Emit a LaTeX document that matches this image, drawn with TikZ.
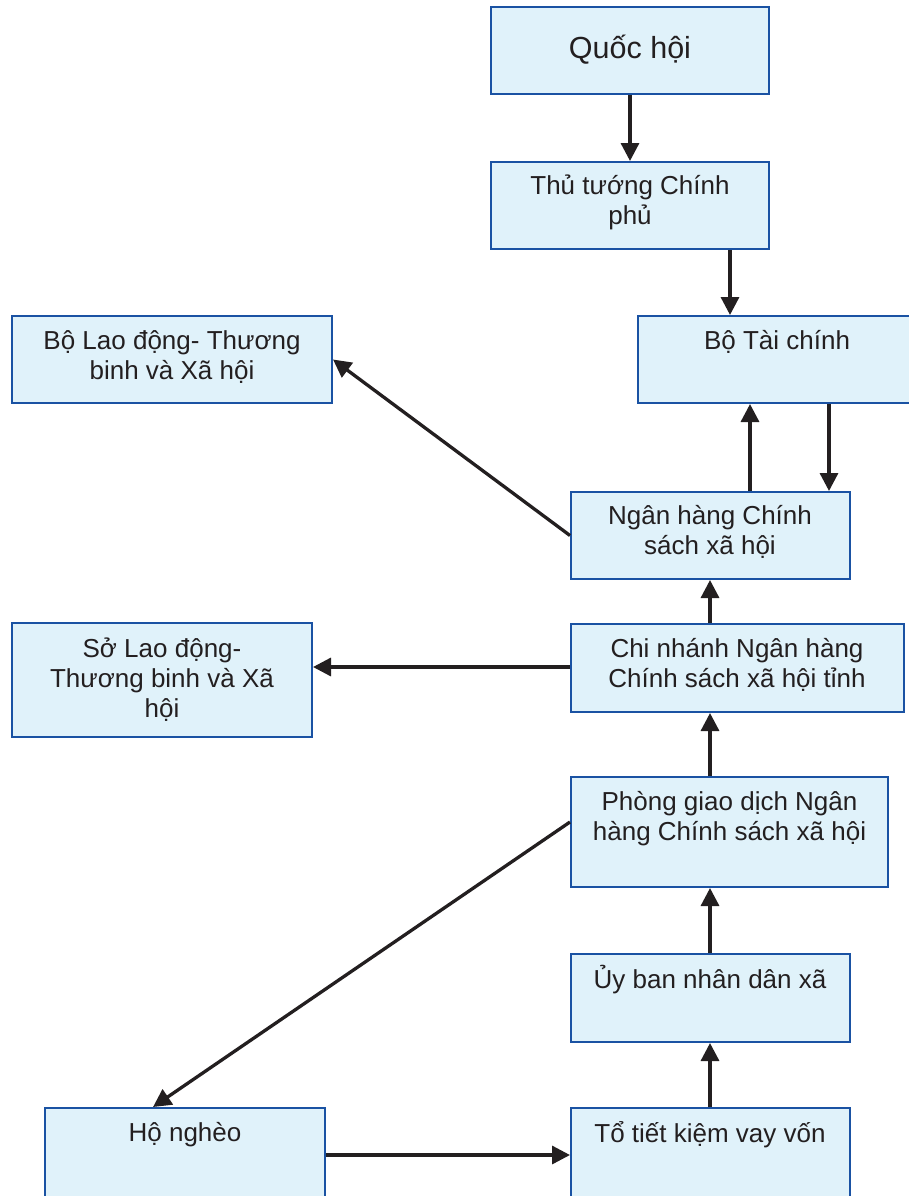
\documentclass[tikz,border=0pt]{standalone}
\usepackage{fontspec}
\setmainfont{Liberation Sans}
\usetikzlibrary{arrows.meta}
\definecolor{boxfill}{HTML}{E0F2FA}
\definecolor{boxline}{HTML}{1A52A3}
\definecolor{arrcol}{HTML}{231F20}
\tikzset{
  box/.style={draw=boxline, fill=boxfill, line width=2pt, rectangle, inner sep=0pt},
  txt/.style={align=center, inner sep=0pt, text=arrcol, font=\fontsize{26}{30}\selectfont},
  arr/.style={draw=arrcol, line width=3.3pt, -{Triangle[length=18pt,width=18pt]}}
}
\begin{document}
\begin{tikzpicture}[x=1pt,y=-1pt]
\useasboundingbox (0,0) rectangle (909,1196);
% boxes
\node[box, minimum width=278pt, minimum height=87pt] (qh) at (630,50.5) {};
\node[box, minimum width=278pt, minimum height=87pt] (tt) at (630,205.5) {};
\node[box, minimum width=278pt, minimum height=87pt] (btc) at (777,359.5) {};
\node[box, minimum width=320pt, minimum height=87pt] (bld) at (172,359.5) {};
\node[box, minimum width=279pt, minimum height=87pt] (nh) at (710.5,535.5) {};
\node[box, minimum width=333pt, minimum height=88pt] (cn) at (737.5,668) {};
\node[box, minimum width=300pt, minimum height=114pt] (so) at (162,680) {};
\node[box, minimum width=317pt, minimum height=110pt] (pg) at (729.5,832) {};
\node[box, minimum width=279pt, minimum height=88pt] (ub) at (710.5,998) {};
\node[box, minimum width=280pt, minimum height=89pt] (hn) at (185,1152.5) {};
\node[box, minimum width=279pt, minimum height=89pt] (to) at (710.5,1152.5) {};
% texts
\node[txt, font=\fontsize{30.5}{34}\selectfont] (qh-t) at (630,50) {Quốc hội};
\node[txt] (tt-t) at (630,202) {Thủ tướng Chính\\phủ};
\node[txt] (btc-t) at (777,342) {Bộ Tài chính};
\node[txt] (bld-t) at (172,357) {Bộ Lao động- Thương\\binh và Xã hội};
\node[txt] (nh-t) at (710,532) {Ngân hàng Chính\\sách xã hội};
\node[txt] (cn-t) at (737,665) {Chi nhánh Ngân hàng\\Chính sách xã hội tỉnh};
\node[txt] (so-t) at (162,680) {Sở Lao động-\\Thương binh và Xã\\hội};
\node[txt] (pg-t) at (729.5,819) {Phòng giao dịch Ngân\\hàng Chính sách xã hội};
\node[txt] (ub-t) at (710,980) {Ủy ban nhân dân xã};
\node[txt] (hn-t) at (185,1135) {Hộ nghèo};
\node[txt] (to-t) at (710,1135) {Tổ tiết kiệm vay vốn};
% helper coordinates
\coordinate (x730) at (730,0);
\coordinate (x750) at (750,0);
\coordinate (x829) at (829,0);
\coordinate (x710) at (710,0);
\coordinate (x153) at (153,0);
\coordinate (y667) at (0,667);
\coordinate (y822) at (0,822);
\coordinate (y1155) at (0,1155);
% connectors
\draw[arr] (qh.south) -- (tt.north);
\draw[arr] (tt.south -| x730) -- (btc.north -| x730);
\draw[arr] (nh.north -| x750) -- (btc.south -| x750);
\draw[arr] (btc.south -| x829) -- (nh.north -| x829);
\draw[arr] (nh.west) -- (bld.east);
\draw[arr] (cn.north -| x710) -- (nh.south -| x710);
\draw[arr] (cn.west |- y667) -- (so.east |- y667);
\draw[arr] (pg.north -| x710) -- (cn.south -| x710);
\draw[arr] (ub.north -| x710) -- (pg.south -| x710);
\draw[arr] (to.north -| x710) -- (ub.south -| x710);
\draw[arr] (pg.west |- y822) -- (hn.north -| x153);
\draw[arr] (hn.east |- y1155) -- (to.west |- y1155);
\end{tikzpicture}
\end{document}
